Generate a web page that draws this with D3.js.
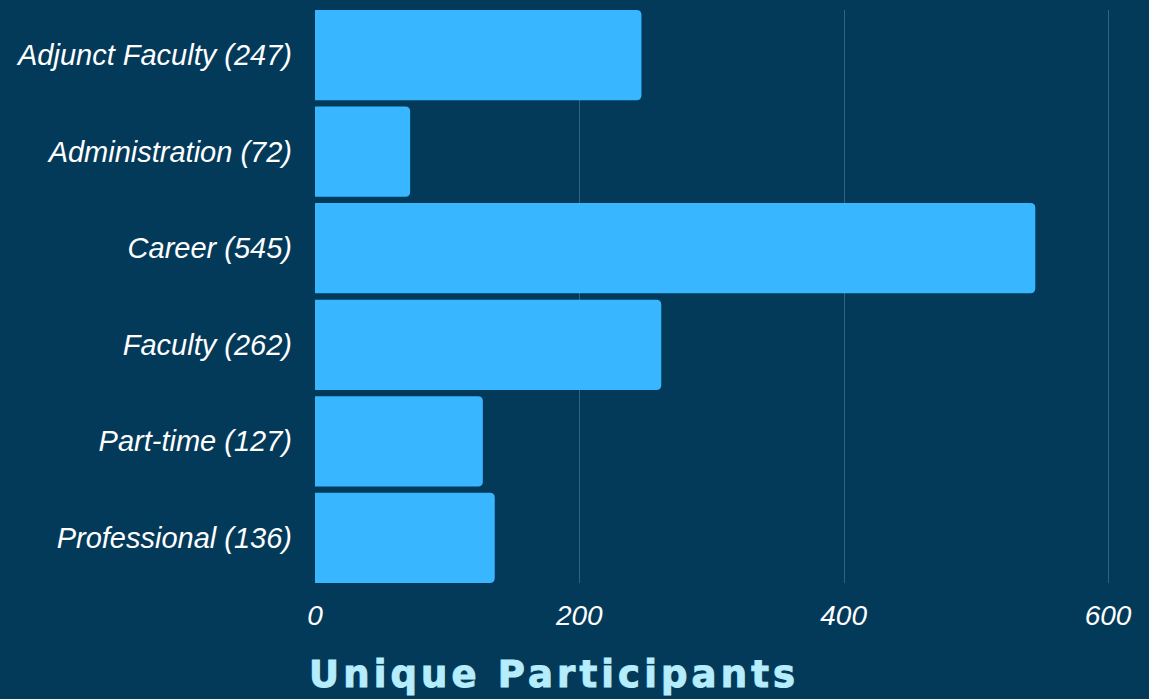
<!DOCTYPE html>
<html>
<head>
<meta charset="utf-8">
<script src="https://cdn.jsdelivr.net/npm/d3@7"></script>
<style>
  html, body { margin: 0; padding: 0; background: #033a5a; }
  svg { display: block; }
  .cat { font-family: "Liberation Sans", Arial, sans-serif; font-style: italic; font-size: 29px; fill: #ffffff; }
  .tick-lbl { font-family: "Liberation Sans", Arial, sans-serif; font-style: italic; font-size: 28px; fill: #ffffff; }
  .title { font-family: "DejaVu Sans", sans-serif; font-weight: bold; font-size: 37px; fill: #b5edfc; stroke: #b5edfc; stroke-width: 1px; }
</style>
</head>
<body>
<svg id="chart" width="1149" height="699"></svg>
<script>
// data
const categories = ['Adjunct Faculty', 'Administration', 'Career', 'Faculty', 'Part-time', 'Professional'];
const participants = [247, 72, 545, 262, 127, 136];
const xTicks = [0, 200, 400, 600];
const axisTitle = 'Unique Participants';

const svg = d3.select('#chart');
const W = 1149, H = 699;
const margin = { left: 315, right: 41, top: 10, bottom: 116 };

svg.append('rect').attr('width', W).attr('height', H).attr('fill', '#033a5a');

const x = d3.scaleLinear().domain([0, 600]).range([margin.left, W - margin.right]);
const y = d3.scaleBand().domain(categories).range([margin.top, H - margin.bottom]).paddingInner(0.065).paddingOuter(0.0);

// grid lines
svg.append('g')
  .selectAll('line')
  .data(xTicks.filter(d => d > 0))
  .join('line')
  .attr('x1', d => Math.round(x(d)) + 0.5)
  .attr('x2', d => Math.round(x(d)) + 0.5)
  .attr('y1', margin.top)
  .attr('y2', H - margin.bottom)
  .attr('stroke', '#ffffff')
  .attr('stroke-opacity', 0.2)
  .attr('stroke-width', 1);

// bars: square left edge, rounded right corners
const r = 5;
function barPath(x0, x1, y0, h) {
  const rr = Math.min(r, (x1 - x0) / 2);
  return `M${x0},${y0}H${x1 - rr}Q${x1},${y0} ${x1},${y0 + rr}V${y0 + h - rr}Q${x1},${y0 + h} ${x1 - rr},${y0 + h}H${x0}Z`;
}

svg.append('g')
  .selectAll('path')
  .data(categories)
  .join('path')
  .attr('d', (c, i) => barPath(x(0), x(participants[i]), y(c), y.bandwidth()))
  .attr('fill', '#38b6ff');

// category labels
svg.append('g')
  .selectAll('text')
  .data(categories)
  .join('text')
  .attr('class', 'cat')
  .attr('x', margin.left - 23)
  .attr('y', c => y(c) + y.bandwidth() / 2)
  .attr('dy', '0.35em')
  .attr('text-anchor', 'end')
  .text((c, i) => `${c} (${participants[i]})`);

// x tick labels
svg.append('g')
  .selectAll('text')
  .data(xTicks)
  .join('text')
  .attr('class', 'tick-lbl')
  .attr('x', d => x(d))
  .attr('y', 625)
  .attr('text-anchor', 'middle')
  .text(d => d);

// axis title, spaced out to the width of the original
const title = svg.append('text')
  .attr('class', 'title')
  .attr('x', 309)
  .attr('y', 687)
  .text(axisTitle);
const natural = title.node().getComputedTextLength();
const spacing = Math.max(0, (486 - natural) / (axisTitle.length - 1));
title.style('letter-spacing', spacing + 'px');
</script>
</body>
</html>
